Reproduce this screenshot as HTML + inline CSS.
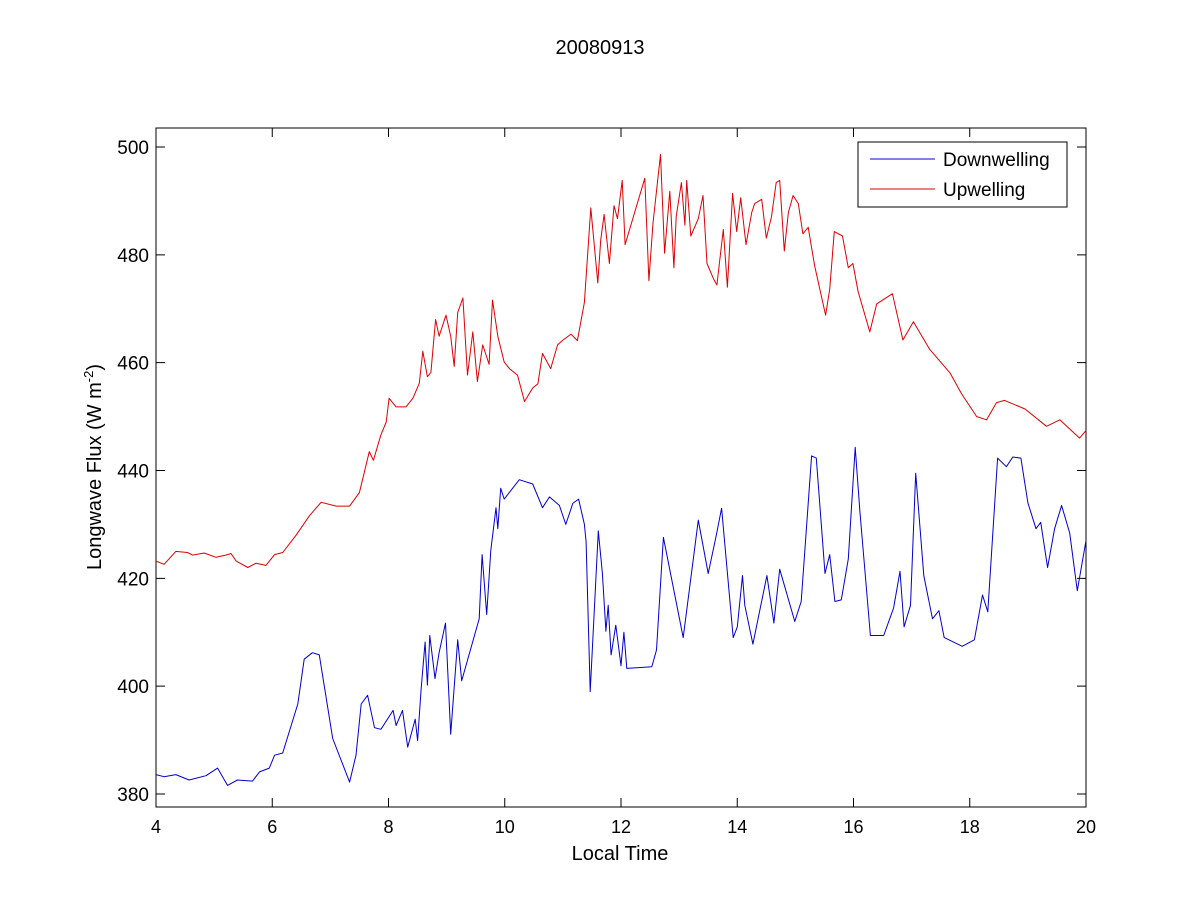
<!DOCTYPE html>
<html><head><meta charset="utf-8"><style>
body{margin:0;background:#fff;}
svg{display:block;font-family:"Liberation Sans",Arial,sans-serif;}
</style></head><body>
<svg id="chart" width="1200" height="900" viewBox="0 0 1200 900" xmlns="http://www.w3.org/2000/svg">
<rect width="1200" height="900" fill="#fff"/>
<text x="600" y="54" font-size="20" text-anchor="middle">20080913</text>
<g id="axes"></g>
<g id="series"></g>
<text x="620" y="860" font-size="20" text-anchor="middle">Local Time</text>
<text transform="translate(101,467) rotate(-90)" font-size="20" text-anchor="middle">Longwave Flux (W m<tspan font-size="13" dy="-8">-2</tspan><tspan dy="8">)</tspan></text>
<g>
<rect x="858" y="142" width="209" height="65" fill="#fff" stroke="#000" stroke-width="1"/>
<line x1="870" y1="159" x2="935" y2="159" stroke="#0000cc" stroke-width="1"/>
<text x="943" y="166" font-size="19">Downwelling</text>
<line x1="870" y1="189" x2="935" y2="189" stroke="#dd0000" stroke-width="1"/>
<text x="943" y="196" font-size="19">Upwelling</text>
</g>
</svg>
<script>
const xTicks=[4,6,8,10,12,14,16,18,20];
const yTicks=[380,400,420,440,460,480,500];
const downT=[4,4.14,4.34,4.57,4.86,5.06,5.23,5.4,5.66,5.78,5.95,6.04,6.18,6.44,6.55,6.69,6.81,7.04,7.33,7.44,7.53,7.64,7.76,7.87,8.08,8.13,8.24,8.33,8.46,8.5,8.56,8.63,8.67,8.71,8.8,8.87,8.98,9.07,9.19,9.26,9.56,9.61,9.69,9.76,9.85,9.88,9.93,9.99,10.25,10.48,10.65,10.77,10.94,11.05,11.17,11.27,11.37,11.4,11.47,11.61,11.68,11.74,11.78,11.83,11.91,12.0,12.05,12.1,12.53,12.61,12.73,13.07,13.33,13.5,13.64,13.73,13.93,14.0,14.09,14.13,14.27,14.51,14.63,14.73,14.99,15.1,15.28,15.36,15.51,15.59,15.68,15.79,15.91,16.03,16.11,16.29,16.52,16.69,16.8,16.87,16.98,17.07,17.21,17.36,17.47,17.56,17.87,18.08,18.22,18.31,18.48,18.63,18.74,18.88,19.0,19.14,19.22,19.34,19.46,19.58,19.72,19.85,20.0];
const downV=[383.6,383.2,383.6,382.6,383.4,384.8,381.6,382.6,382.4,384.1,384.8,387.2,387.6,396.7,405,406.2,405.8,390.3,382.2,387.2,396.7,398.3,392.3,392,395.5,392.7,395.5,388.7,393.9,389.9,399.4,408.2,400.2,409.4,401.4,406.2,411.7,391.1,408.6,401,412.5,424.4,413.3,425.2,433.1,429.2,436.7,434.7,438.3,437.5,433.1,435.1,433.5,430,433.9,434.7,430,426.8,399,428.8,420.9,410.2,415,405.8,411.3,403.8,410,403.3,403.6,406.7,427.6,409,430.8,420.9,428,433,409,411,420.5,415,407.8,420.5,411.7,421.7,412,415.7,442.7,442.3,420.9,424.4,415.7,416,423.6,444.3,432.4,409.4,409.4,414.5,421.3,411,415,439.5,420.5,412.5,414,409,407.4,408.6,416.9,413.8,442.3,440.7,442.5,442.3,434,429.2,430.4,422,429.2,433.5,428.4,417.7,427];
const upT=[4,4.14,4.34,4.54,4.63,4.83,5.03,5.2,5.29,5.38,5.58,5.72,5.89,6.04,6.18,6.41,6.64,6.84,7.1,7.33,7.5,7.67,7.74,7.87,7.96,8.01,8.13,8.3,8.42,8.53,8.59,8.67,8.73,8.81,8.87,8.99,9.07,9.13,9.19,9.28,9.36,9.45,9.53,9.62,9.73,9.79,9.88,9.99,10.08,10.22,10.34,10.48,10.57,10.65,10.79,10.91,10.99,11.14,11.25,11.37,11.48,11.6,11.65,11.71,11.8,11.88,11.94,12.02,12.07,12.41,12.48,12.55,12.68,12.75,12.84,12.91,12.95,13.04,13.1,13.13,13.2,13.33,13.41,13.48,13.59,13.65,13.76,13.83,13.92,13.99,14.06,14.15,14.25,14.3,14.42,14.5,14.59,14.67,14.73,14.81,14.88,14.96,15.05,15.13,15.22,15.33,15.52,15.59,15.67,15.81,15.91,15.99,16.08,16.28,16.4,16.67,16.85,17.03,17.31,17.66,17.86,18.12,18.29,18.46,18.6,18.95,19.32,19.55,19.89,20];
const upV=[423.2,422.6,425,424.8,424.3,424.7,423.9,424.3,424.6,423.2,422,422.8,422.4,424.4,424.8,428,431.6,434.1,433.4,433.4,435.9,443.5,441.9,446.6,449,453.4,451.8,451.8,453.4,456.2,462.1,457.4,458.2,468,464.9,468.8,464.9,459.3,469.3,472,457.7,465.7,456.5,463.3,459.7,471.6,464.9,460.1,458.9,457.7,452.8,455.3,456.1,461.7,458.9,463.3,464.1,465.3,464.1,471.2,488.7,474.8,482.7,487.5,478.4,489.1,486.7,493.8,481.9,494.2,475.2,485.9,498.6,480.3,491.8,477.6,487.1,493.4,485.5,493.8,483.5,486.7,491,478.4,475.6,474.4,484.7,474,491.4,484.3,490.6,481.9,487.9,489.5,490.3,483.1,487.1,493.4,493.8,480.7,487.9,491,489.5,483.9,485.1,478,468.8,473.6,484.3,483.5,477.6,478.4,473.2,465.7,470.9,472.8,464.2,467.6,462.5,458.1,454.2,450,449.4,452.6,453,451.4,448.2,449.4,446,447.4];

const NS='http://www.w3.org/2000/svg';
const L=156,R=1086,T=128,B=807;
const xs=t=>L+(t-4)*(R-L)/16;
const ys=v=>794-(v-380)*(794-147)/120;
const axes=document.getElementById('axes');
const series=document.getElementById('series');
function mk(tag,attrs,parent){const e=document.createElementNS(NS,tag);for(const k in attrs)e.setAttribute(k,attrs[k]);parent.appendChild(e);return e;}
const box=mk('rect',{x:L,y:T,width:R-L,height:B-T,fill:'none',stroke:'#000','stroke-width':1},axes);


xTicks.forEach(t=>{
  const x=xs(t);
  const tk=mk('path',{d:`M${x},${B}V${B-9}M${x},${T}V${T+9}`,stroke:'#000','stroke-width':1,fill:'none'},axes);
  
  
  const lb=mk('text',{x:x,y:B+26,'font-size':18,'text-anchor':'middle'},axes);
  lb.textContent=t;
  
  
});
yTicks.forEach(v=>{
  const y=ys(v);
  const tk=mk('path',{d:`M${L},${y}H${L+9}M${R},${y}H${R-9}`,stroke:'#000','stroke-width':1,fill:'none'},axes);
  
  
  const lb=mk('text',{x:L-7,y:y+7,'font-size':19,'text-anchor':'end'},axes);
  lb.textContent=v;
  
  
});
function line(T_,V_,col,name){
  const d=T_.map((t,i)=>(i?'L':'M')+xs(t).toFixed(1)+','+ys(V_[i]).toFixed(1)).join('');
  const p=mk('path',{d:d,stroke:col,'stroke-width':1,fill:'none','stroke-linejoin':'round'},series);
  
  
}
line(upT,upV,'#dd0000','upwelling-line');
line(downT,downV,'#0000cc','downwelling-line');
</script>
</body></html>
